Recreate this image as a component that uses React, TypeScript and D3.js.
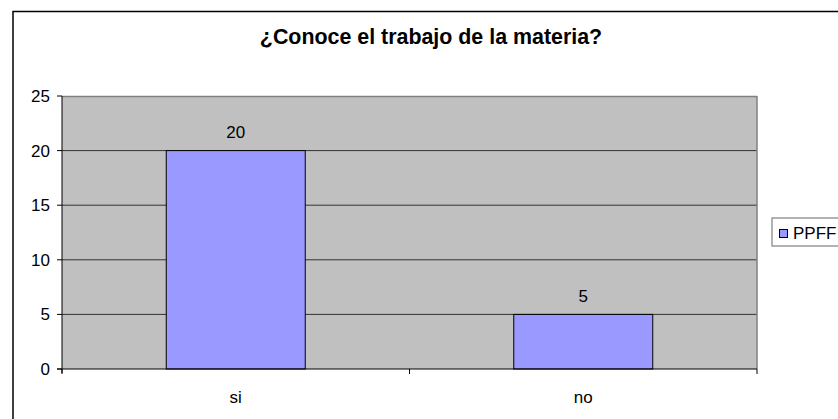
import React from "react";
import * as d3 from "d3";

const categories = ["si", "no"];
const values = [20, 5];
const yTicks = [0, 5, 10, 15, 20, 25];
const seriesName = "PPFF";
const title = "¿Conoce el trabajo de la materia?";

export default function App() {
  const W = 838, H = 419;
  const left = 62, right = 757, top = 96, bottom = 369;
  const x = d3.scaleBand<string>().domain(categories).range([left, right]).paddingInner(0).paddingOuter(0);
  const y = d3.scaleLinear().domain([0, 25]).range([bottom, top]);
  const bw = x.bandwidth() * 0.4;
  const font = "'Liberation Sans', Arial, sans-serif";
  return (
    <svg width={W} height={H} style={{ position: "absolute", left: 0, top: 0 }} fontFamily={font}>
      <rect x={0} y={0} width={W} height={H} fill="#fff" />
      <rect x={13} y={11.5} width={900} height={500} fill="none" stroke="#000" strokeWidth={1.5} />
      <text x={431} y={44} textAnchor="middle" fontSize={21.4} fontWeight="bold">{title}</text>
      <rect x={left} y={top} width={right - left} height={bottom - top} fill="#C0C0C0" />
      {yTicks.filter(t => t > 0 && t < 25).map(t => (
        <line key={t} x1={left} x2={right} y1={y(t)} y2={y(t)} stroke="#333" strokeWidth={1} />
      ))}
      <line x1={left} x2={right} y1={top + 0.5} y2={top + 0.5} stroke="#808080" strokeWidth={1.5} />
      <line x1={right} x2={right} y1={top} y2={bottom} stroke="#808080" strokeWidth={1.5} />
      {categories.map((c, i) => {
        const cx = (x(c) as number) + x.bandwidth() / 2;
        return (
          <g key={c}>
            <rect x={cx - bw / 2} y={y(values[i])} width={bw} height={bottom - y(values[i])} fill="#9999FF" stroke="#000" strokeWidth={1} />
            <text x={cx} y={y(values[i]) - 12.5} textAnchor="middle" fontSize={17}>{values[i]}</text>
            <text x={cx} y={403} textAnchor="middle" fontSize={17}>{c}</text>
          </g>
        );
      })}
      <line x1={left} x2={left} y1={top} y2={bottom + 4} stroke="#000" strokeWidth={1} />
      <line x1={left - 5} x2={right} y1={bottom} y2={bottom} stroke="#000" strokeWidth={1.2} />
      {yTicks.map(t => (
        <g key={t}>
          <line x1={left - 5} x2={left} y1={y(t)} y2={y(t)} stroke="#000" />
          <text x={50} y={y(t) + 6} textAnchor="end" fontSize={17}>{t}</text>
        </g>
      ))}
      {[left, (x("no") as number), right].map((tx, i) => (
        <line key={i} x1={tx} x2={tx} y1={bottom} y2={bottom + 5} stroke="#000" />
      ))}
      <rect x={772} y={218} width={90} height={28} fill="#fff" stroke="#808080" strokeWidth={1.2} />
      <rect x={779.5} y={229.5} width={8} height={8} fill="#9999FF" stroke="#000" strokeWidth={1} />
      <text x={793} y={238.5} fontSize={17}>{seriesName}</text>
    </svg>
  );
}
